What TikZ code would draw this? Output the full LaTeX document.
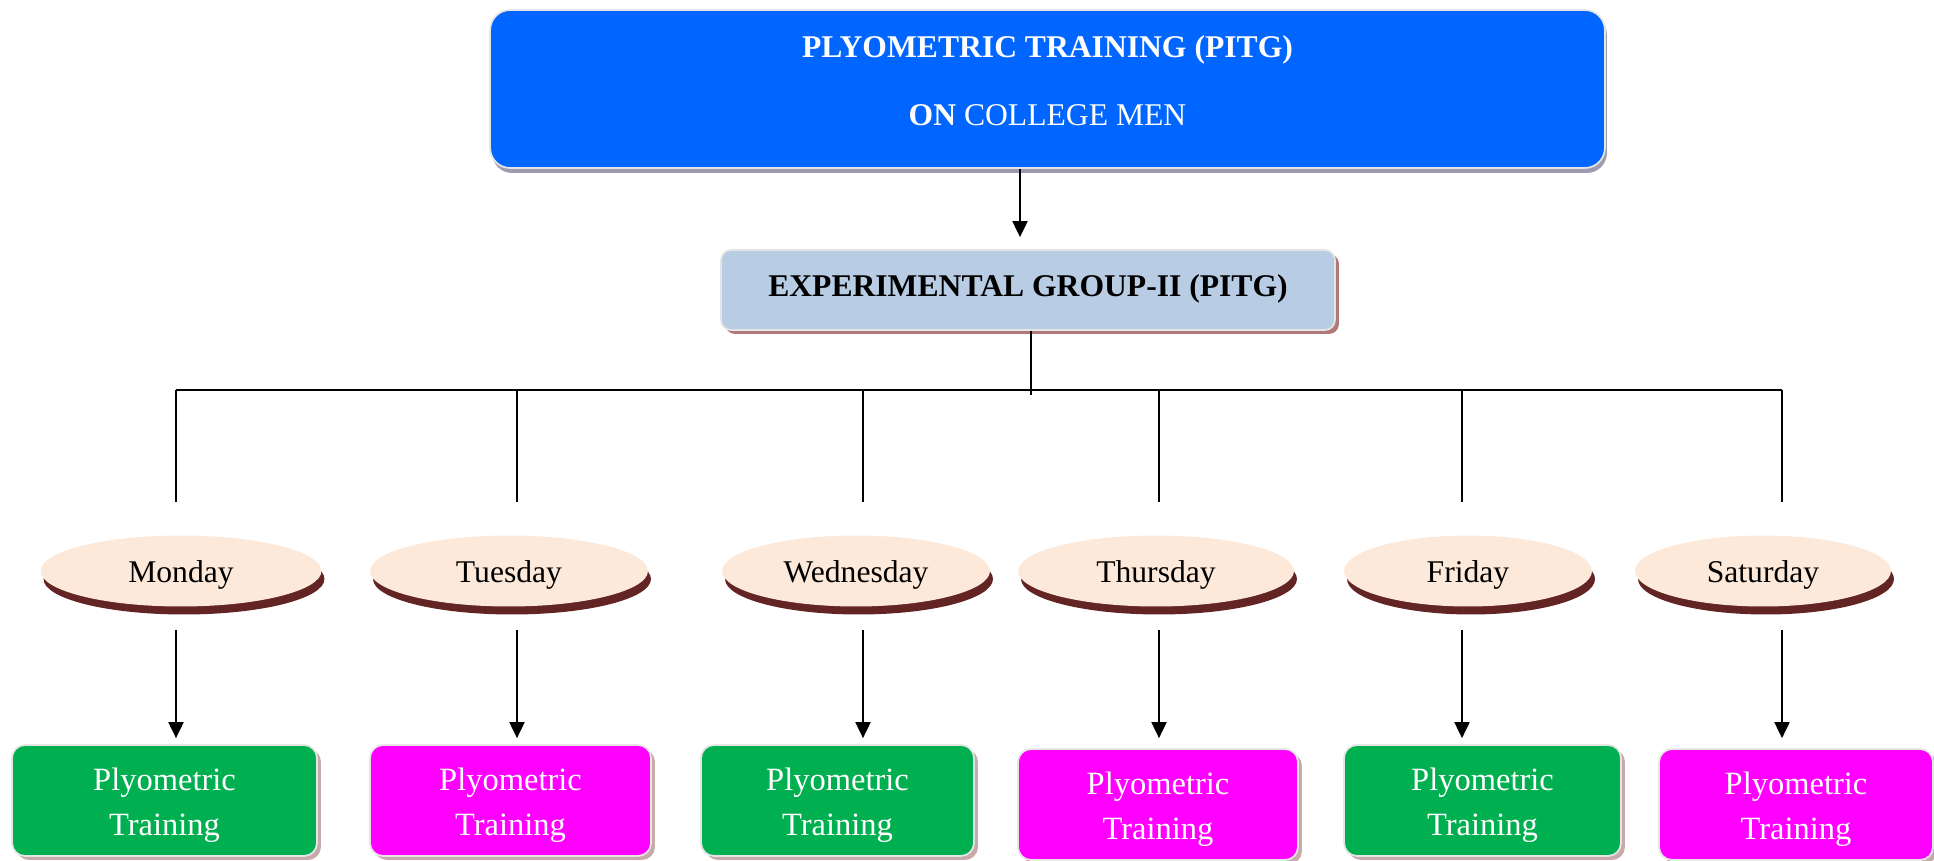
\documentclass[tikz,border=0pt]{standalone}
\usepackage{fontspec}
\setmainfont{Liberation Serif}
\usetikzlibrary{shapes.geometric,shadows,arrows.meta}
\definecolor{headblue}{RGB}{0,102,255}
\definecolor{headshade}{RGB}{160,154,176}
\definecolor{grpblue}{RGB}{184,204,228}
\definecolor{grpshade}{RGB}{176,120,120}
\definecolor{dayfill}{RGB}{253,233,217}
\definecolor{dayshade}{RGB}{99,37,35}
\definecolor{trgreen}{RGB}{0,176,80}
\definecolor{trpink}{RGB}{255,0,255}
\definecolor{trshade}{RGB}{200,170,170}

\begin{document}
\begin{tikzpicture}[x=0.02cm,y=-0.02cm]
\tikzstyle{head}=[rectangle, rounded corners=0.4cm, fill=headblue, draw=white!90!black, line width=1pt, text=white, align=center, font=\fontsize{18}{39}\selectfont, minimum width=22.3cm, minimum height=3.16cm, drop shadow={shadow xshift=0.04cm, shadow yshift=-0.1cm, fill=headshade, opacity=1}]
\tikzstyle{group}=[rectangle, rounded corners=0.2cm, fill=grpblue, draw=white!90!black, line width=1pt, font=\fontsize{18}{22}\selectfont\bfseries, minimum width=12.28cm, minimum height=1.6cm, drop shadow={shadow xshift=0.08cm, shadow yshift=-0.08cm, fill=grpshade, opacity=1}]
\tikzstyle{day}=[ellipse, inner sep=0pt, fill=dayfill, font=\fontsize{18}{22}\selectfont, text height=0.6cm, text depth=0.15cm, minimum height=1.42cm, drop shadow={shadow xshift=0.06cm, shadow yshift=-0.16cm, fill=dayshade, opacity=1}]
\tikzstyle{train}=[rectangle, rounded corners=0.26cm, draw=white!90!black, line width=1pt, text=white, align=center, font=\fontsize{18.5}{25.6}\selectfont, minimum height=2.22cm, drop shadow={shadow xshift=0.08cm, shadow yshift=-0.08cm, fill=trshade, opacity=1}]
\tikzstyle{drop}=[line width=1.1pt, shorten >=0.66cm]
\tikzstyle{connect}=[-{Triangle[length=0.32cm,width=0.3cm]}, line width=1.1pt]
  \useasboundingbox (0,0) rectangle (1934,861);
  \node[head] (top) at (1047.5,89) {\textbf{PLYOMETRIC TRAINING (PITG)}\\\textbf{ON} COLLEGE MEN\rule[-0.34cm]{0pt}{0pt}};
  \node[group] (grp) at (1028,290) {EXPERIMENTAL GROUP-II (PITG)\rule[-0.16cm]{0pt}{0pt}};
  % days
  \node[day, minimum width=5.62cm] (emon) at (181,571) {Monday};
  \node[day, minimum width=5.56cm] (etue) at (509,571) {Tuesday};
  \node[day, minimum width=5.36cm] (ewed) at (856,571) {Wednesday};
  \node[day, minimum width=5.52cm] (ethu) at (1156,571) {Thursday};
  \node[day, minimum width=4.96cm] (efri) at (1468,571) {Friday};
  \node[day, minimum width=5.12cm] (esat) at (1763,571) {Saturday};
  % training boxes
  \node[train, fill=trgreen, minimum width=6.1cm] (bmon) at (164.5,800.5) {\rule{0pt}{0.64cm}Plyometric\\Training};
  \node[train, fill=trpink, minimum width=5.62cm] (btue) at (510.5,800.5) {\rule{0pt}{0.64cm}Plyometric\\Training};
  \node[train, fill=trgreen, minimum width=5.46cm] (bwed) at (837.5,800.5) {\rule{0pt}{0.64cm}Plyometric\\Training};
  \node[train, fill=trpink, minimum width=5.6cm] (bthu) at (1158,804.5) {\rule{0pt}{0.64cm}Plyometric\\Training};
  \node[train, fill=trgreen, minimum width=5.54cm] (bfri) at (1482.5,800.5) {\rule{0pt}{0.64cm}Plyometric\\Training};
  \node[train, fill=trpink, minimum width=5.48cm] (bsat) at (1796,804.5) {\rule{0pt}{0.64cm}Plyometric\\Training};
  % bar
  \coordinate (cmon) at (176,390);
  \coordinate (ctue) at (517,390);
  \coordinate (cwed) at (863,390);
  \coordinate (cthu) at (1159,390);
  \coordinate (cfri) at (1462,390);
  \coordinate (csat) at (1782,390);
  \draw[connect, shorten >=0.24cm] ([xshift=-0.16cm]top.south -| grp.north) -- ([xshift=-0.16cm]grp.north);
  \draw[line width=1.1pt, shorten >=-0.1cm] ([xshift=0.06cm]grp.south) -- ([xshift=0.06cm]grp.south |- cmon);
  \draw[line width=1.1pt] (cmon) -- (csat);
  \path
        (cmon) edge [drop] (cmon |- emon.north)
        (ctue) edge [drop] (ctue |- etue.north)
        (cwed) edge [drop] (cwed |- ewed.north)
        (cthu) edge [drop] (cthu |- ethu.north)
        (cfri) edge [drop] (cfri |- efri.north)
        (csat) edge [drop] (csat |- esat.north);
  \path
        (cmon |- emon.south) edge [connect, shorten <=0.46cm, shorten >=0.12cm] (cmon |- bmon.north)
        (ctue |- etue.south) edge [connect, shorten <=0.46cm, shorten >=0.12cm] (ctue |- btue.north)
        (cwed |- ewed.south) edge [connect, shorten <=0.46cm, shorten >=0.12cm] (cwed |- bwed.north)
        (cthu |- ethu.south) edge [connect, shorten <=0.46cm, shorten >=0.2cm] (cthu |- bthu.north)
        (cfri |- efri.south) edge [connect, shorten <=0.46cm, shorten >=0.12cm] (cfri |- bfri.north)
        (csat |- esat.south) edge [connect, shorten <=0.46cm, shorten >=0.2cm] (csat |- bsat.north);
\end{tikzpicture}
\end{document}
